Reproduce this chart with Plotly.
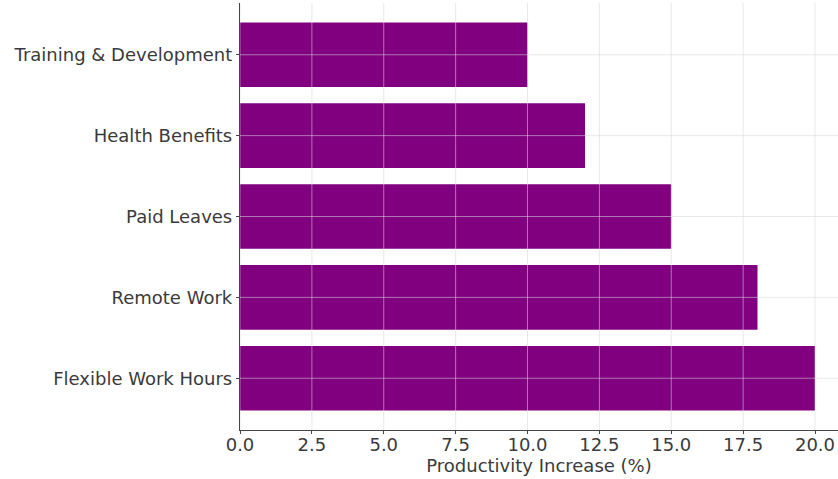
import plotly.graph_objects as go

# Benefit categories (bottom to top) and their productivity gains
benefits = ["Flexible Work Hours", "Remote Work", "Paid Leaves",
            "Health Benefits", "Training & Development"]
increase_pct = [20, 18, 15, 12, 10]
x_ticks = [0.0, 2.5, 5.0, 7.5, 10.0, 12.5, 15.0, 17.5, 20.0]
x_tick_labels = ["0.0", "2.5", "5.0", "7.5", "10.0", "12.5", "15.0", "17.5", "20.0"]

FONT = "DejaVu Sans"
TEXT = "#3a3a3a"
GRID = "rgba(215,215,215,0.55)"
SIZE = 18

fig = go.Figure(
    go.Bar(
        x=increase_pct,
        y=benefits,
        orientation="h",
        width=0.8,
        marker=dict(color="#800080", line=dict(width=0)),
    )
)

# Grid drawn over the bars
grid_shapes = []
for t in x_ticks:
    grid_shapes.append(dict(type="line", xref="x", yref="paper", x0=t, x1=t,
                            y0=0, y1=1, layer="above",
                            line=dict(color=GRID, width=1)))
for b in benefits:
    grid_shapes.append(dict(type="line", xref="paper", yref="y", x0=0, x1=1,
                            y0=b, y1=b, layer="above",
                            line=dict(color=GRID, width=1)))

fig.update_layout(
    width=838,
    height=479,
    margin=dict(l=240, r=0, t=3, b=49),
    paper_bgcolor="white",
    plot_bgcolor="white",
    showlegend=False,
    bargap=0.2,
    font=dict(family=FONT, size=SIZE, color=TEXT),
    shapes=grid_shapes,
    xaxis=dict(
        range=[0, 20.8],
        tickvals=x_ticks,
        ticktext=x_tick_labels,
        showgrid=False,
        zeroline=False,
        showline=True,
        linecolor="#444",
        linewidth=1.3,
        ticks="outside",
        ticklen=3,
        tickcolor="#444",
        ticklabelstandoff=-5,
        tickfont=dict(family=FONT, size=SIZE, color=TEXT),
        title=dict(text="Productivity Increase (%)", standoff=4,
                   font=dict(family=FONT, size=SIZE, color=TEXT)),
    ),
    yaxis=dict(
        range=[-0.64, 4.64],
        showgrid=False,
        zeroline=False,
        showline=True,
        linecolor="#444",
        linewidth=1.3,
        ticks="outside",
        ticklen=3,
        tickcolor="#444",
        tickfont=dict(family=FONT, size=SIZE, color=TEXT),
    ),
)

fig.write_html("out.html")
